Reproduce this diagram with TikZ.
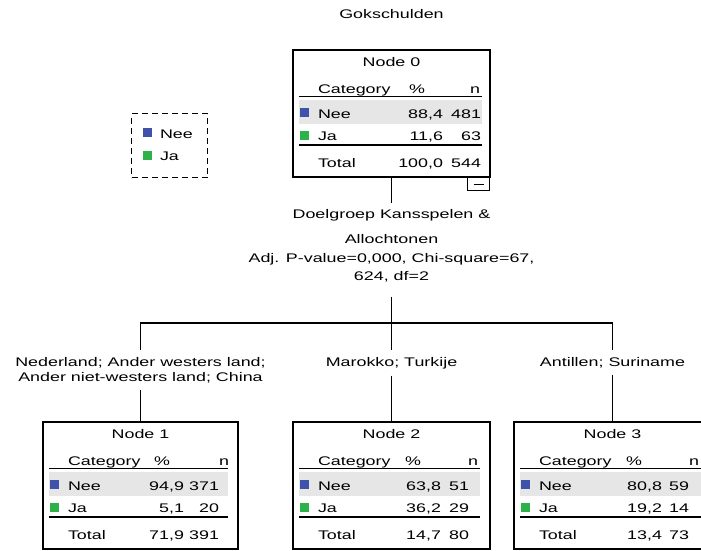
\documentclass[tikz,border=0pt]{standalone}
\usepackage{fontspec}
\setmainfont{Liberation Sans}[FakeStretch=1.43]
\definecolor{rowgray}{RGB}{230,230,230}
\definecolor{neeblue}{RGB}{62,82,172}
\definecolor{jagreen}{RGB}{44,178,72}
\newcommand\fsz{\fontsize{12.5}{15}\selectfont}
\tikzset{
  tx/.style={inner sep=0pt, outer sep=0pt, font=\fsz},
  lab/.style={inner xsep=0pt, inner ysep=7pt, outer sep=0pt, font=\fsz, align=center, anchor=north},
  box/.style={draw, line width=1.1pt, minimum width=#1, minimum height=127pt, anchor=north west, inner sep=0pt, outer sep=0pt},
  sq/.style={minimum size=9pt, inner sep=0pt, outer sep=0pt},
  rule/.style={line width=1.1pt},
  conn/.style={line width=1.3pt},
}
% #1 node name, #2 title, #3 nee %, #4 nee n, #5 ja %, #6 ja n, #7 total %, #8 total n
\newcommand\cattable[8]{%
\begin{scope}[shift={(#1.north west)}]
  \fill[rowgray] (6,50) rectangle (\lr,74);
  \node[sq,fill=neeblue] (#1-qn) at (11,62.5) {};
  \node[sq,fill=jagreen] (#1-qj) at (11,85.5) {};
  \node[tx,anchor=base] (#1-title) at (\bw/2,16) {#2};
  \node[tx,anchor=base west] (#1-cat) at (25,43) {Category};
  \node[tx,anchor=base east] (#1-ph) at (\ph,43) {\%};
  \node[tx,anchor=base east] (#1-nh) at (\nh,43) {n};
  \draw[rule] (6,46.5) -- (\lr,46.5);
  \node[tx,anchor=base west] (#1-nee) at (25,68) {Nee};
  \node[tx,anchor=base east] (#1-neep) at (\pc,68) {#3};
  \node[tx,anchor=base east] (#1-neen) at (\nc,68) {#4};
  \node[tx,anchor=base west] (#1-ja) at (25,90) {Ja};
  \node[tx,anchor=base east] (#1-jap) at (\pc,90) {#5};
  \node[tx,anchor=base east] (#1-jan) at (\nc,90) {#6};
  \draw[rule] (6,95) -- (\lr,95);
  \node[tx,anchor=base west] (#1-tot) at (25,117) {Total};
  \node[tx,anchor=base east] (#1-totp) at (\pc,117) {#7};
  \node[tx,anchor=base east] (#1-totn) at (\nc,117) {#8};
\end{scope}}
\begin{document}
\begin{tikzpicture}[x=1pt,y=-1pt]
\useasboundingbox (0,0) rectangle (701,550);
\fill[white] (0,0) rectangle (701,550);
\clip (0,0) rectangle (701,550);

% title
\node[tx,anchor=base] (title) at (391.5,18) {Gokschulden};

% legend
\node[draw, line width=1.1pt, dash pattern=on 6pt off 4pt, minimum width=76pt, minimum height=64pt,
      anchor=north west, inner sep=0pt] (leg) at (131,113) {};
\node[sq,fill=neeblue] (legq1) at (147,132) {};
\node[sq,fill=jagreen] (legq2) at (147,155.5) {};
\node[tx,anchor=base west] (legnee) at (160,138) {Nee};
\node[tx,anchor=base west] (legja) at (160,160) {Ja};

% node boxes
\node[box=197pt] (n0) at (293,50) {};
\node[box=195pt] (n1) at (43,422) {};
\node[box=197pt] (n2) at (293,422) {};
\node[box=197pt] (n3) at (514,422) {};

\def\bw{197}\def\pc{150}\def\nc{188}\def\ph{132}\def\nh{187}\def\lr{189}
\cattable{n0}{Node 0}{88,4}{481}{11,6}{63}{100,0}{544}
\def\bw{195}\def\pc{141}\def\nc{176}\def\ph{127}\def\nh{186}\def\lr{185}
\cattable{n1}{Node 1}{94,9}{371}{5,1}{20}{71,9}{391}
\def\bw{197}\def\pc{148}\def\nc{176}\def\ph{128}\def\nh{185}\def\lr{187}
\cattable{n2}{Node 2}{63,8}{51}{36,2}{29}{14,7}{80}
\def\bw{197}\def\pc{148}\def\nc{175}\def\ph{128}\def\nh{185}\def\lr{187}
\cattable{n3}{Node 3}{80,8}{59}{19,2}{14}{13,4}{73}

% collapse box
\node[draw, line width=1pt, minimum width=22pt, minimum height=13pt, anchor=north east, inner sep=0pt] (mb) at (n0.south east) {};
\draw[line width=1pt] ([xshift=-5pt]mb.center) -- ([xshift=5pt]mb.center);

% split label
\node[tx, align=center, anchor=north] (sp) at (391.5,209) {Doelgroep Kansspelen \&\\[10pt]Allochtonen\\[4pt]Adj. P-value=0,000, Chi-square=67,\\[3pt]624, df=2};

% child labels
\node[lab] (l1) at (140.5,350) {Nederland; Ander westers land;\\Ander niet-westers land; China};
\node[lab] (l2) at (391.5,350) {Marokko; Turkije};
\node[lab] (l3) at (612.5,350) {Antillen; Suriname};

% connectors
\coordinate (j) at (391.5,323);
\draw[conn] (n0.south) -- ([yshift=6pt]sp.north);
\draw[conn] ([yshift=-15pt]sp.south) -- (l2.north);
\draw[conn] (l1.north) |- (j) -| (l3.north);
\draw[conn] (l1.south) -- (l1.south |- n1.north);
\draw[conn] (l2.south) -- (l2.south |- n2.north);
\draw[conn] (l3.south) -- (l3.south |- n3.north);
\end{tikzpicture}
\end{document}
